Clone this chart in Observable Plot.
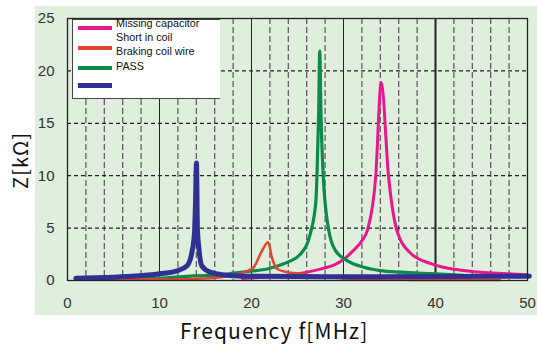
<!DOCTYPE html>
<html>
<head>
<meta charset="utf-8">
<script src="https://cdn.jsdelivr.net/npm/d3@7"></script>
<script src="https://cdn.jsdelivr.net/npm/@observablehq/plot@0.6"></script>
<style>
  html, body { margin: 0; padding: 0; background: #ffffff; }
  #wrap { position: relative; width: 537px; height: 344px; overflow: hidden; }
  #bg { position: absolute; left: 35px; top: 6px; width: 502px; height: 309px; background: #dfeedd; }
  #chart { position: absolute; left: 0; top: 0; }
  .ttl { position: absolute; font-family: "Noto Sans CJK JP", "DejaVu Sans", sans-serif; color: #111; white-space: nowrap; }
  #legend { position: absolute; left: 72px; top: 19px; width: 148px; height: 80px; background: #fff;
            border-left: 1px solid #444; border-bottom: 1px solid #444; border-top: 1px solid #444; box-sizing: border-box;
            font-family: "Liberation Sans", Arial, sans-serif; font-size: 10.8px; color: #111; }
  .lg-line { position: absolute; left: 5px; width: 34px; }
  .lg-text { position: absolute; left: 43px; white-space: nowrap; }
</style>
</head>
<body>
<div id="wrap">
  <div id="bg"></div>
  <div id="chart"></div>
  <div id="legend"></div>
  <div class="ttl" id="ylab" style="left:-9px; top:146px; font-size:20px; letter-spacing:1px; transform: rotate(-90deg); transform-origin: center;">Z[kΩ]</div>
  <div class="ttl" id="xlab" style="left:180px; top:315px; font-size:21px; letter-spacing:1.1px;">Frequency f[MHz]</div>
</div>
<script>
// ---- data ----
const xTicks = [0, 10, 20, 30, 40, 50];
const yTicks = [0, 5, 10, 15, 20, 25];
const minorX = [2, 4, 6, 8, 12, 14, 16, 18, 22, 24, 26, 28, 32, 34, 36, 38, 42, 44, 46, 48];
const majorX = [10, 20, 30];
const boldX = [40];
const gridY = [5, 10, 15, 20];

const legendLabels = ["Missing capacitor", "Short in coil", "Braking coil wire", "PASS", ""];

// Pink series
const pinkF = [19, 22, 24, 26, 28, 29, 30, 31, 32, 32.6, 33.5, 34.1, 34.9, 35.8, 37.3, 39.5, 43, 46.7, 50];
const pinkZ = [0.2, 0.35, 0.5, 0.8, 1.2, 1.5, 2.0, 2.8, 3.8, 4.8, 9.9, 18.9, 9.9, 4.8, 2.6, 1.6, 0.95, 0.7, 0.55];
// Red series
const redF = [1, 5, 10, 15, 18, 19.5, 20.25, 21.15, 21.8, 22.25, 22.8, 23.9, 25.3, 26.7, 27.8, 30, 35, 40, 47];
const redZ = [0.08, 0.08, 0.1, 0.2, 0.5, 0.9, 1.27, 2.86, 3.65, 2.1, 1.1, 0.8, 0.64, 0.48, 0.4, 0.2, 0.1, 0.05, 0.05];
// Green series
const greenF = [6.5, 10, 13.7, 16.3, 18.1, 19.9, 21.7, 23.5, 25.3, 26.4, 27.0, 27.15, 27.3, 27.42, 27.55, 27.8, 28.4, 29.1, 30.4, 32.2, 34, 36.2, 39.5, 43];
const greenZ = [0.2, 0.22, 0.45, 0.5, 0.7, 0.89, 1.1, 1.6, 2.5, 4.5, 7.6, 11, 16, 21.9, 16, 9.9, 4.8, 2.9, 1.9, 1.27, 0.95, 0.8, 0.65, 0.5];
// Blue series
const blueF = [0.9, 3, 6.5, 10, 12, 13, 13.5, 13.8, 13.9, 14.02, 14.12, 14.3, 14.6, 15.5, 17.4, 20, 25, 30, 40, 50.2];
const blueZ = [0.22, 0.26, 0.38, 0.64, 0.95, 1.4, 2.6, 4.5, 7.0, 11.2, 5.0, 2.9, 1.4, 0.8, 0.5, 0.4, 0.37, 0.36, 0.38, 0.4];

const colors = { pink: "#e8178a", red: "#e0452e", green: "#0c8a48", blue: "#2f3192" };

const toRows = (fs, zs) => fs.map((f, i) => ({ f, z: zs[i] }));
const pink = toRows(pinkF, pinkZ);
const red = toRows(redF, redZ);
const green = toRows(greenF, greenZ);
const blue = toRows(blueF, blueZ);

const plot = Plot.plot({
  width: 537,
  height: 344,
  marginLeft: 67,
  marginRight: 10,
  marginTop: 18,
  marginBottom: 64,
  style: { background: "transparent", fontFamily: "Liberation Sans, Arial, sans-serif", fontSize: "15px", color: "#333" },
  x: { domain: [0, 50], ticks: xTicks, tickSize: 0, tickPadding: 17, label: null },
  y: { domain: [0, 25], ticks: yTicks, tickSize: 0, tickPadding: 13, label: null },
  marks: [
    Plot.ruleX(minorX, { stroke: "#555", strokeWidth: 1.2, strokeDasharray: "6,3" }),
    Plot.ruleY(gridY, { stroke: "#222", strokeWidth: 1.2, strokeDasharray: "4,3" }),
    Plot.ruleX(majorX, { stroke: "#222", strokeWidth: 1 }),
    Plot.ruleX(boldX, { stroke: "#222", strokeWidth: 2 }),
    Plot.line(pink, { x: "f", y: "z", stroke: colors.pink, strokeWidth: 3, curve: "monotone-x" }),
    Plot.line(green, { x: "f", y: "z", stroke: colors.green, strokeWidth: 3.2, curve: "monotone-x" }),
    Plot.line(red, { x: "f", y: "z", stroke: colors.red, strokeWidth: 2.5, curve: "monotone-x" }),
    Plot.line(blue, { x: "f", y: "z", stroke: colors.blue, strokeWidth: 5, curve: "monotone-x", clip: false }),
    Plot.frame({ stroke: "#222", strokeWidth: 1.3 })
  ]
});
document.getElementById("chart").appendChild(plot);

// legend
const lg = document.getElementById("legend");
const lineSpecs = [
  { c: colors.pink, top: 8, w: 4 },
  { c: colors.red, top: 28, w: 4 },
  { c: colors.green, top: 48, w: 4 },
  { c: colors.blue, top: 65, w: 5 }
];
lineSpecs.forEach(s => {
  const d = document.createElement("div");
  d.className = "lg-line";
  d.style.top = (s.top - s.w / 2) + "px";
  d.style.height = s.w + "px";
  d.style.background = s.c;
  lg.appendChild(d);
});
const textTops = [-3, 11, 25, 40, 58];
legendLabels.forEach((t, i) => {
  const d = document.createElement("div");
  d.className = "lg-text";
  d.style.top = textTops[i] + "px";
  d.textContent = t;
  lg.appendChild(d);
});
</script>
</body>
</html>
